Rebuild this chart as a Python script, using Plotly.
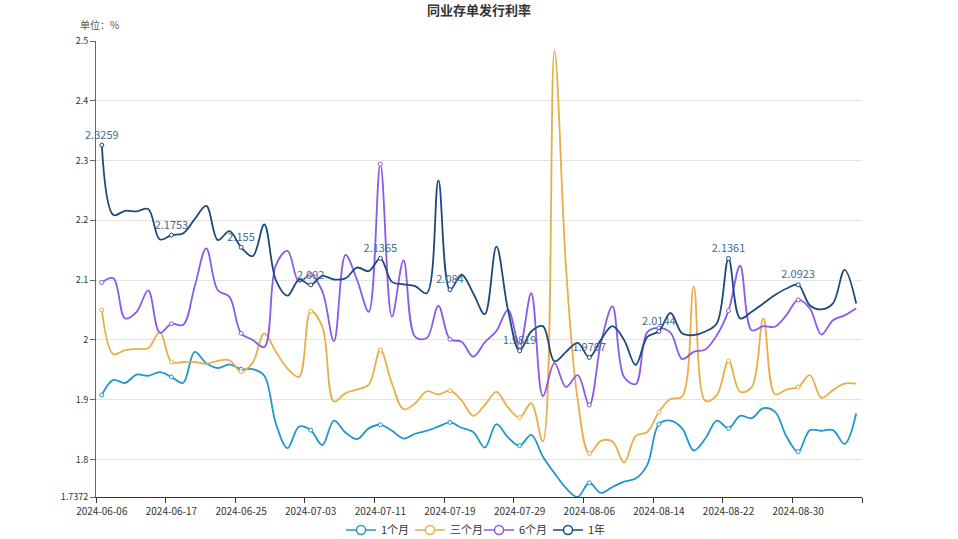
import plotly.graph_objects as go

dates = [
    "2024-06-06", "2024-06-07", "2024-06-11", "2024-06-12", "2024-06-13", "2024-06-14",
    "2024-06-17", "2024-06-18", "2024-06-19", "2024-06-20", "2024-06-21", "2024-06-24",
    "2024-06-25", "2024-06-26", "2024-06-27", "2024-06-28", "2024-07-01", "2024-07-02",
    "2024-07-03", "2024-07-04", "2024-07-05", "2024-07-08", "2024-07-09", "2024-07-10",
    "2024-07-11", "2024-07-12", "2024-07-15", "2024-07-16", "2024-07-17", "2024-07-18",
    "2024-07-19", "2024-07-22", "2024-07-23", "2024-07-24", "2024-07-25", "2024-07-26",
    "2024-07-29", "2024-07-30", "2024-07-31", "2024-08-01", "2024-08-02", "2024-08-05",
    "2024-08-06", "2024-08-07", "2024-08-08", "2024-08-09", "2024-08-12", "2024-08-13",
    "2024-08-14", "2024-08-15", "2024-08-16", "2024-08-19", "2024-08-20", "2024-08-21",
    "2024-08-22", "2024-08-23", "2024-08-26", "2024-08-27", "2024-08-28", "2024-08-29",
    "2024-08-30", "2024-09-02", "2024-09-03", "2024-09-04", "2024-09-05", "2024-09-06",
]

m1 = [1.908, 1.933, 1.928, 1.942, 1.940, 1.946, 1.938, 1.928, 1.980, 1.961, 1.953, 1.959,
      1.951, 1.951, 1.940, 1.860, 1.819, 1.855, 1.849, 1.824, 1.865, 1.845, 1.834, 1.852,
      1.858, 1.848, 1.835, 1.843, 1.848, 1.855, 1.862, 1.853, 1.846, 1.820, 1.859, 1.837,
      1.823, 1.841, 1.805, 1.777, 1.752, 1.7372, 1.761, 1.744, 1.754, 1.763, 1.768, 1.791,
      1.859, 1.865, 1.852, 1.815, 1.835, 1.865, 1.852, 1.873, 1.869, 1.886, 1.880, 1.838,
      1.813, 1.849, 1.848, 1.849, 1.826, 1.877]

m3 = [2.050, 1.976, 1.983, 1.985, 1.986, 2.013, 1.963, 1.963, 1.963, 1.960, 1.965, 1.966,
      1.947, 1.962, 2.011, 1.980, 1.952, 1.938, 2.048, 2.022, 1.897, 1.911, 1.917, 1.925,
      1.983, 1.927, 1.884, 1.894, 1.914, 1.909, 1.915, 1.899, 1.873, 1.891, 1.913, 1.887,
      1.870, 1.894, 1.830, 2.484, 2.120, 1.900, 1.810, 1.831, 1.830, 1.795, 1.839, 1.846,
      1.879, 1.901, 1.905, 2.089, 1.898, 1.908, 1.965, 1.913, 1.921, 2.036, 1.909, 1.917,
      1.921, 1.941, 1.903, 1.916, 1.927, 1.927]

m6 = [2.096, 2.103, 2.036, 2.047, 2.083, 2.012, 2.027, 2.025, 2.089, 2.153, 2.083, 2.072,
      2.011, 2.000, 1.988, 2.125, 2.149, 2.097, 2.109, 2.081, 1.998, 2.142, 2.100, 2.047,
      2.294, 2.039, 2.133, 2.005, 2.003, 2.057, 2.001, 1.997, 1.972, 1.996, 2.015, 2.050,
      1.990, 2.078, 1.906, 1.961, 1.921, 1.941, 1.891, 1.994, 2.056, 1.938, 1.926, 2.013,
      2.020, 2.012, 1.968, 1.980, 1.984, 2.008, 2.049, 2.124, 2.016, 2.023, 2.022, 2.042,
      2.067, 2.053, 2.009, 2.033, 2.041, 2.053]

y1 = [2.3259, 2.209, 2.216, 2.215, 2.219, 2.168, 2.1753, 2.178, 2.202, 2.224, 2.167, 2.182,
      2.155, 2.140, 2.193, 2.100, 2.074, 2.101, 2.092, 2.107, 2.101, 2.103, 2.121, 2.115,
      2.1365, 2.097, 2.093, 2.090, 2.078, 2.267, 2.084, 2.109, 2.078, 2.043, 2.156, 2.050,
      1.9819, 2.014, 2.023, 1.964, 1.980, 1.995, 1.9707, 2.000, 2.023, 2.000, 1.958, 2.005,
      2.0144, 2.045, 2.011, 2.008, 2.014, 2.028, 2.1361, 2.036, 2.047, 2.061, 2.075, 2.086,
      2.0923, 2.058, 2.051, 2.061, 2.117, 2.061]

series_names = ["1个月", "三个月", "6个月", "1年"]
series_vals = [m1, m3, m6, y1]
colors = ["#1f97cc", "#e8ae48", "#8a5ae8", "#1b4a7c"]

y_tickvals = [1.7372, 1.8, 1.9, 2.0, 2.1, 2.2, 2.3, 2.4, 2.5]
y_ticktext = ["1.7372", "1.8", "1.9", "2", "2.1", "2.2", "2.3", "2.4", "2.5"]

STEP = 6
FONT = "Noto Sans CJK SC, Noto Sans, sans-serif"

fig = go.Figure()

for name, vals, c in zip(series_names, series_vals, colors):
    fig.add_trace(go.Scatter(
        x=dates, y=vals, mode="lines", name=name, showlegend=False,
        line=dict(color=c, width=1.8, shape="spline", smoothing=1.0),
        hoverinfo="skip",
    ))
    is_last = name == "1年"
    fig.add_trace(go.Scatter(
        x=dates[::STEP], y=vals[::STEP],
        mode="markers+text" if is_last else "markers",
        text=[str(v) for v in vals[::STEP]] if is_last else None,
        textposition="top center",
        textfont=dict(family=FONT, size=11, color="#456a94"),
        marker=dict(symbol="circle", size=4, color="white", line=dict(color=c, width=1)),
        showlegend=False, hoverinfo="skip", cliponaxis=False,
    ))

for name, c in zip(series_names, colors):
    fig.add_trace(go.Scatter(
        x=[None], y=[None], xaxis="x2", mode="lines+markers", name=name,
        line=dict(color=c, width=1.6),
        marker=dict(symbol="circle", size=9, color="white", line=dict(color=c, width=1.5)),
    ))

n = len(dates)
boundary_ticks = [-0.5 + STEP * k for k in range((n - 1) // STEP + 1)] + [n - 0.5]

fig.update_layout(
    width=958, height=539,
    margin=dict(l=96, r=96, t=41, b=42, autoexpand=False),
    paper_bgcolor="white", plot_bgcolor="white",
    font=dict(family=FONT, size=10, color="#333"),
    title=dict(text="<b>同业存单发行利率</b>", x=0.5, xanchor="center",
               y=1 - 10 / 539, yanchor="middle", yref="container",
               font=dict(family=FONT, size=13, color="#333")),
    xaxis=dict(
        type="category", range=[-0.5, n - 0.5], automargin=False,
        tickmode="array", tickvals=dates[::STEP], ticktext=dates[::STEP],
        ticks="outside", ticklen=5, tickcolor="rgba(0,0,0,0)",
        showline=True, linecolor="#333", linewidth=1,
        showgrid=False, zeroline=False,
        tickfont=dict(family=FONT, size=10, color="#333"),
    ),
    xaxis2=dict(
        overlaying="x", anchor="y", side="bottom", range=[-0.5, n - 0.5],
        tickmode="array", tickvals=boundary_ticks, showticklabels=False,
        ticks="outside", ticklen=5, tickcolor="#333", tickwidth=1,
        showline=False, showgrid=False, zeroline=False, automargin=False,
    ),
    yaxis=dict(
        range=[1.7372, 2.5], tickmode="array", tickvals=y_tickvals, ticktext=y_ticktext,
        ticks="outside", ticklen=5, tickcolor="#666", automargin=False,
        showline=True, linecolor="#666", linewidth=1,
        showgrid=True, gridcolor="#e3e3e3", zeroline=False,
        tickfont=dict(family=FONT, size=9, color="#333"),
    ),
    legend=dict(orientation="h", x=0.5, xanchor="center", xref="container",
                y=1 - 530 / 539, yanchor="middle", yref="container",
                font=dict(family=FONT, size=11, color="#333"), itemwidth=30,
                entrywidth=24, entrywidthmode="pixels",
                bgcolor="rgba(0,0,0,0)"),
    annotations=[dict(text="单位：%", xref="paper", yref="paper",
                      x=(78 - 96) / 766, y=(497 - 25) / 456, xanchor="left", yanchor="middle",
                      showarrow=False, font=dict(family=FONT, size=10, color="#555"))],
    showlegend=True,
)

fig.write_html("out.html")
